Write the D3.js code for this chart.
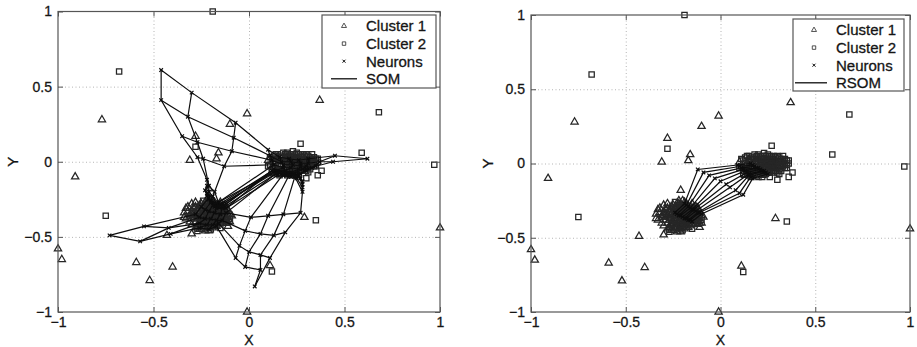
<!DOCTYPE html>
<html>
<head>
<meta charset="utf-8">
<script src="https://cdn.jsdelivr.net/npm/d3@7/dist/d3.min.js"></script>
<style>
  body { margin: 0; background: #fff; }
  svg { display: block; font-family: "Liberation Sans", Arial, Helvetica, sans-serif; }
</style>
</head>
<body>
<svg id="chart" width="917" height="347"></svg>
<script>
// axis ticks
const ticks = [-1, -0.5, 0, 0.5, 1];
const tickLabels = ['\u22121', '\u22120.5', '0', '0.5', '1'];
const gridTicks = [-0.5, 0, 0.5];
const legendLabels = ['Cluster 1', 'Cluster 2', 'Neurons'];

// cluster 1 (triangles): scattered points + dense core near (-0.21,-0.34)
const cluster1Outliers = [
  [-0.77, 0.28], [-0.91, -0.10], [-1.00, -0.58], [-0.98, -0.65], [-0.59, -0.67],
  [-0.52, -0.79], [-0.40, -0.70], [-0.43, -0.49], [-0.30, -0.48], [0.11, -0.69],
  [-0.01, -1.00], [1.00, -0.44], [0.29, -0.37], [0.37, 0.41], [-0.01, 0.32],
  [-0.10, 0.25], [-0.28, 0.17], [-0.31, 0.01], [-0.16, 0.06], [-0.17, 0.02],
  [-0.21, -0.18], [-0.33, -0.31], [-0.34, -0.37], [-0.11, -0.43], [-0.11, -0.40],
  [-0.23, -0.46], [-0.09, -0.36]
];
const cluster1Core = [
  [-0.30, -0.33], [-0.28, -0.30], [-0.27, -0.36], [-0.26, -0.40], [-0.25, -0.32],
  [-0.25, -0.28], [-0.24, -0.35], [-0.24, -0.42], [-0.23, -0.30], [-0.23, -0.38],
  [-0.22, -0.33], [-0.22, -0.27], [-0.21, -0.36], [-0.21, -0.41], [-0.20, -0.31],
  [-0.20, -0.39], [-0.19, -0.34], [-0.19, -0.28], [-0.18, -0.37], [-0.18, -0.43],
  [-0.17, -0.32], [-0.17, -0.40], [-0.16, -0.35], [-0.16, -0.29], [-0.15, -0.38],
  [-0.15, -0.33], [-0.14, -0.41], [-0.14, -0.30], [-0.13, -0.36], [-0.12, -0.33],
  [-0.29, -0.38], [-0.27, -0.43], [-0.26, -0.34], [-0.22, -0.44], [-0.20, -0.25],
  [-0.18, -0.31], [-0.24, -0.37], [-0.21, -0.30], [-0.19, -0.42], [-0.16, -0.39],
  [-0.31, -0.36], [-0.28, -0.35], [-0.25, -0.45], [-0.12, -0.39], [-0.11, -0.35],
  [-0.23, -0.34], [-0.17, -0.36], [-0.26, -0.31], [-0.29, -0.31], [-0.27, -0.33],
  [-0.26, -0.37], [-0.25, -0.39], [-0.24, -0.31], [-0.23, -0.41], [-0.22, -0.36],
  [-0.22, -0.30], [-0.21, -0.33], [-0.21, -0.38], [-0.20, -0.35], [-0.20, -0.42],
  [-0.19, -0.37], [-0.19, -0.31], [-0.18, -0.34], [-0.18, -0.40], [-0.17, -0.29],
  [-0.17, -0.38], [-0.16, -0.33], [-0.16, -0.42], [-0.15, -0.36], [-0.15, -0.30],
  [-0.14, -0.34], [-0.14, -0.38], [-0.13, -0.32], [-0.13, -0.40], [-0.28, -0.40],
  [-0.30, -0.35], [-0.32, -0.33], [-0.23, -0.27], [-0.26, -0.42], [-0.24, -0.44],
  [-0.11, -0.37], [-0.12, -0.30], [-0.19, -0.26], [-0.21, -0.44],
  [-0.34, -0.34], [-0.33, -0.38], [-0.32, -0.30], [-0.31, -0.40], [-0.30, -0.28],
  [-0.30, -0.42], [-0.29, -0.34], [-0.28, -0.27], [-0.28, -0.44], [-0.27, -0.38],
  [-0.26, -0.29], [-0.26, -0.45], [-0.25, -0.35], [-0.25, -0.41], [-0.24, -0.29],
  [-0.24, -0.39], [-0.23, -0.32], [-0.23, -0.43], [-0.22, -0.38], [-0.22, -0.25],
  [-0.21, -0.28], [-0.21, -0.46], [-0.20, -0.33], [-0.20, -0.37], [-0.19, -0.40],
  [-0.19, -0.44], [-0.18, -0.27], [-0.18, -0.36], [-0.17, -0.34], [-0.17, -0.43],
  [-0.16, -0.31], [-0.16, -0.37], [-0.15, -0.27], [-0.15, -0.41], [-0.14, -0.32],
  [-0.14, -0.36], [-0.13, -0.34], [-0.13, -0.29], [-0.12, -0.37], [-0.12, -0.41],
  [-0.11, -0.32], [-0.10, -0.35], [-0.10, -0.40], [-0.27, -0.31], [-0.29, -0.36],
  [0.13, -0.08], [0.15, 0.03], [0.22, -0.08], [0.30, 0.03], [0.10, 0.01]
];

// cluster 2 (squares): scattered points + dense core near (0.23,-0.02)
const cluster2Outliers = [
  [-0.19, 1.00], [-0.68, 0.60], [-0.75, -0.36], [0.68, 0.33], [0.59, 0.06],
  [0.97, -0.02], [0.35, -0.39], [0.12, -0.73], [-0.28, 0.10], [0.27, 0.12],
  [0.38, -0.06], [0.36, -0.09], [0.30, -0.11]
];
const cluster2Core = [
  [0.12, 0.02], [0.13, -0.03], [0.14, 0.05], [0.15, -0.06], [0.16, 0.01],
  [0.17, -0.02], [0.17, 0.04], [0.18, -0.07], [0.19, 0.00], [0.19, -0.04],
  [0.20, 0.03], [0.21, -0.01], [0.21, -0.06], [0.22, 0.05], [0.22, 0.01],
  [0.23, -0.03], [0.24, 0.02], [0.24, -0.07], [0.25, -0.01], [0.25, 0.06],
  [0.26, -0.04], [0.27, 0.01], [0.27, 0.04], [0.28, -0.02], [0.28, -0.06],
  [0.29, 0.02], [0.30, -0.01], [0.30, 0.05], [0.31, -0.04], [0.32, 0.01],
  [0.33, -0.02], [0.34, 0.03], [0.35, -0.01], [0.23, 0.07], [0.18, 0.06],
  [0.16, -0.09], [0.20, -0.09], [0.26, -0.09], [0.31, -0.07], [0.33, 0.05],
  [0.14, -0.01], [0.21, 0.02], [0.26, 0.00], [0.29, -0.03], [0.23, -0.05],
  [0.19, 0.02], [0.24, -0.02], [0.27, -0.05], [0.11, -0.02], [0.36, 0.00],
  [0.13, 0.00], [0.14, -0.04], [0.15, 0.02], [0.16, -0.03], [0.17, 0.01],
  [0.18, -0.05], [0.18, 0.03], [0.19, -0.02], [0.20, 0.01], [0.20, -0.05],
  [0.21, 0.04], [0.22, -0.03], [0.22, -0.06], [0.23, 0.00], [0.23, 0.03],
  [0.24, -0.04], [0.25, 0.01], [0.25, -0.06], [0.26, 0.03], [0.26, -0.02],
  [0.27, -0.03], [0.28, 0.00], [0.28, 0.03], [0.29, -0.05], [0.30, 0.01],
  [0.31, -0.02], [0.32, 0.03], [0.32, -0.05], [0.33, 0.00], [0.34, -0.03],
  [0.15, -0.08], [0.17, -0.06], [0.19, 0.05], [0.24, 0.05], [0.35, 0.02],
  [0.12, -0.05], [0.10, -0.03], [0.11, 0.03], [0.12, -0.07], [0.13, 0.04],
  [0.14, -0.07], [0.15, 0.05], [0.15, -0.02], [0.16, 0.03], [0.16, -0.05],
  [0.17, -0.08], [0.18, 0.01], [0.19, -0.08], [0.19, 0.04], [0.20, -0.02],
  [0.20, 0.06], [0.21, -0.04], [0.21, 0.00], [0.22, 0.03], [0.22, -0.09],
  [0.23, -0.07], [0.23, 0.05], [0.24, 0.00], [0.24, -0.05], [0.25, 0.03],
  [0.25, -0.03], [0.26, 0.05], [0.26, -0.06], [0.27, 0.02], [0.27, -0.01],
  [0.28, 0.05], [0.28, -0.04], [0.29, 0.00], [0.29, 0.04], [0.30, -0.03],
  [0.30, -0.06], [0.31, 0.01], [0.31, 0.04], [0.32, -0.01], [0.33, 0.02],
  [0.34, 0.00], [0.35, -0.03], [0.36, 0.02],
  [-0.20, -0.45], [-0.15, -0.44], [-0.10, -0.38], [-0.27, -0.46], [-0.13, -0.31],
  [-0.24, -0.26]
];

// SOM neurons, 14 x 10 map (rows of the map)
const somGrid = [
  [[-0.46, 0.61], [-0.30, 0.46], [-0.07, 0.26], [0.10, 0.08], [0.16, 0.03], [0.21, 0.02], [0.26, 0.01], [0.31, 0.02], [0.45, 0.04], [0.62, 0.02]],
  [[-0.46, 0.41], [-0.32, 0.30], [-0.08, 0.16], [0.11, 0.04], [0.17, 0.00], [0.22, 0.00], [0.27, -0.01], [0.31, -0.01], [0.37, 0.00], [0.44, 0.00]],
  [[-0.35, 0.17], [-0.27, 0.13], [-0.09, 0.07], [0.12, 0.01], [0.18, -0.02], [0.23, -0.02], [0.27, -0.03], [0.30, -0.03], [0.33, -0.04], [0.35, -0.03]],
  [[-0.27, 0.03], [-0.24, 0.02], [-0.13, -0.03], [0.13, -0.02], [0.18, -0.04], [0.22, -0.04], [0.26, -0.05], [0.28, -0.05], [0.30, -0.06], [0.30, -0.05]],
  [[-0.22, -0.12], [-0.21, -0.16], [-0.18, -0.20], [-0.16, -0.27], [0.14, -0.06], [0.19, -0.06], [0.22, -0.07], [0.25, -0.07], [0.27, -0.08], [0.26, -0.09]],
  [[-0.22, -0.16], [-0.21, -0.20], [-0.19, -0.23], [-0.17, -0.28], [-0.15, -0.29], [0.15, -0.06], [0.19, -0.07], [0.23, -0.08], [0.26, -0.09], [0.27, -0.11]],
  [[-0.23, -0.19], [-0.22, -0.23], [-0.20, -0.26], [-0.18, -0.29], [-0.13, -0.29], [0.13, -0.05], [0.17, -0.08], [0.21, -0.08], [0.25, -0.09], [0.28, -0.13]],
  [[-0.22, -0.21], [-0.21, -0.25], [-0.19, -0.27], [-0.15, -0.28], [0.12, -0.06], [0.16, -0.07], [0.20, -0.09], [0.23, -0.09], [0.26, -0.10], [0.28, -0.15]],
  [[-0.21, -0.22], [-0.20, -0.26], [-0.18, -0.30], [-0.16, -0.30], [-0.12, -0.31], [0.15, -0.09], [0.18, -0.09], [0.22, -0.10], [0.25, -0.11], [0.28, -0.17]],
  [[-0.21, -0.24], [-0.20, -0.27], [-0.19, -0.29], [-0.17, -0.31], [-0.14, -0.31], [0.14, -0.08], [0.18, -0.08], [0.21, -0.09], [0.24, -0.10], [0.28, -0.20]],
  [[-0.25, -0.30], [-0.23, -0.32], [-0.21, -0.33], [-0.18, -0.34], [-0.15, -0.35], [-0.12, -0.34], [0.01, -0.37], [0.10, -0.36], [0.18, -0.35], [0.27, -0.34]],
  [[-0.28, -0.35], [-0.26, -0.37], [-0.23, -0.38], [-0.20, -0.38], [-0.17, -0.39], [-0.14, -0.39], [-0.02, -0.46], [0.06, -0.48], [0.13, -0.49], [0.19, -0.47]],
  [[-0.55, -0.43], [-0.42, -0.44], [-0.26, -0.41], [-0.22, -0.42], [-0.19, -0.42], [-0.16, -0.41], [-0.05, -0.56], [0.00, -0.60], [0.06, -0.62], [0.11, -0.64]],
  [[-0.73, -0.49], [-0.57, -0.53], [-0.41, -0.48], [-0.26, -0.44], [-0.21, -0.45], [-0.17, -0.43], [-0.07, -0.64], [-0.02, -0.70], [0.06, -0.72], [0.03, -0.83]]
];

// RSOM neurons: each row = 2 in left cluster, 1 bend, 2 in right cluster
const rsomGrid = [
  [[-0.24, -0.33], [-0.19, -0.27], [-0.12, -0.04], [0.09, -0.01], [0.16, 0.00]],
  [[-0.23, -0.34], [-0.18, -0.28], [-0.09, -0.06], [0.10, -0.02], [0.17, -0.01]],
  [[-0.22, -0.35], [-0.17, -0.29], [-0.06, -0.08], [0.11, -0.03], [0.18, -0.02]],
  [[-0.21, -0.35], [-0.16, -0.30], [-0.03, -0.10], [0.12, -0.04], [0.19, -0.03]],
  [[-0.20, -0.36], [-0.15, -0.31], [0.00, -0.12], [0.13, -0.05], [0.20, -0.03]],
  [[-0.19, -0.37], [-0.14, -0.31], [0.03, -0.14], [0.14, -0.06], [0.21, -0.04]],
  [[-0.18, -0.37], [-0.13, -0.32], [0.05, -0.16], [0.15, -0.07], [0.22, -0.05]],
  [[-0.17, -0.38], [-0.12, -0.33], [0.08, -0.18], [0.15, -0.08], [0.23, -0.05]],
  [[-0.16, -0.38], [-0.11, -0.33], [0.10, -0.20], [0.16, -0.09], [0.24, -0.06]],
  [[-0.15, -0.39], [-0.10, -0.34], [0.12, -0.21], [0.17, -0.10], [0.25, -0.07]]
];
const rsomLinkedCols = [0, 1, 3, 4];

const cluster1 = cluster1Outliers.concat(cluster1Core);
const cluster2 = cluster2Outliers.concat(cluster2Core);

const panels = [
  { name: 'SOM', grid: somGrid, cols: d3.range(10), left: 58, right: 440, top: 11.5, bottom: 312,
    yLabelX: 13, legend: { x: 322, y: 15, w: 114, h: 73, line: [9, 35], mark: 22, text: 44 } },
  { name: 'RSOM', grid: rsomGrid, cols: rsomLinkedCols, left: 531, right: 910, top: 15, bottom: 312,
    yLabelX: 488, legend: { x: 793, y: 19, w: 111, h: 72, line: [2, 34], mark: 21, text: 43 } }
];

const svg = d3.select('#chart');
const ink = '#0d0d0d';
const markInk = '#262626';
const textInk = '#151515';

const triangle = d3.symbol().type(d3.symbolTriangle).size(23);
const square = d3.symbol().type(d3.symbolSquare).size(28);
const crossPath = s => `M${-s},${-s}L${s},${s}M${-s},${s}L${s},${-s}`;

// slight stroke so the text reads as heavy as the scanned figure
const heavyText = t => t.attr('fill', textInk).attr('stroke', textInk).attr('stroke-width', 0.3);

panels.forEach(p => {
  const x = d3.scaleLinear().domain([-1, 1]).range([p.left, p.right]);
  const y = d3.scaleLinear().domain([-1, 1]).range([p.bottom, p.top]);
  const g = svg.append('g');
  const w = p.right - p.left, h = p.bottom - p.top;

  // dotted grid
  g.append('g')
    .attr('transform', `translate(0,${p.bottom})`)
    .call(d3.axisBottom(x).tickValues(gridTicks).tickSize(-h).tickFormat(''))
    .call(a => a.select('.domain').remove())
    .selectAll('line').attr('stroke', '#b5b5b5').attr('stroke-dasharray', '1,2.5');
  g.append('g')
    .attr('transform', `translate(${p.left},0)`)
    .call(d3.axisLeft(y).tickValues(gridTicks).tickSize(-w).tickFormat(''))
    .call(a => a.select('.domain').remove())
    .selectAll('line').attr('stroke', '#b5b5b5').attr('stroke-dasharray', '1,2.5');

  // data points
  g.append('g').selectAll('path').data(cluster1).join('path')
    .attr('d', triangle)
    .attr('transform', d => `translate(${x(d[0])},${y(d[1])})`)
    .attr('fill', 'none').attr('stroke', markInk).attr('stroke-width', 1.25);
  g.append('g').selectAll('path').data(cluster2).join('path')
    .attr('d', square)
    .attr('transform', d => `translate(${x(d[0])},${y(d[1])})`)
    .attr('fill', 'none').attr('stroke', markInk).attr('stroke-width', 1.25);

  // neuron mesh: rows and columns of the map
  const line = d3.line().x(d => x(d[0])).y(d => y(d[1]));
  const rows = p.grid;
  const columns = p.cols.map(c => rows.map(r => r[c]));
  g.append('g').selectAll('path').data(rows.concat(columns)).join('path')
    .attr('d', line)
    .attr('fill', 'none').attr('stroke', ink).attr('stroke-width', 1.2);
  g.append('g').selectAll('path').data(rows.flat()).join('path')
    .attr('d', crossPath(1.8))
    .attr('transform', d => `translate(${x(d[0])},${y(d[1])})`)
    .attr('stroke', ink).attr('stroke-width', 1.2);

  // frame and axes
  g.append('rect')
    .attr('x', p.left).attr('y', p.top).attr('width', w).attr('height', h)
    .attr('fill', 'none').attr('stroke', '#555').attr('stroke-width', 1.2);

  const fmt = (d, i) => tickLabels[i];
  const styleAxis = a => {
    a.select('.domain').remove();
    a.selectAll('line').attr('stroke', '#555');
    a.selectAll('text').call(heavyText).style('font-size', '14px')
      .style('font-family', '"Liberation Sans", Arial, Helvetica, sans-serif');
  };
  g.append('g').attr('transform', `translate(0,${p.bottom})`)
    .call(d3.axisBottom(x).tickValues(ticks).tickFormat(fmt).tickSize(-5).tickPadding(5)).call(styleAxis);
  g.append('g').attr('transform', `translate(${p.left},0)`)
    .call(d3.axisLeft(y).tickValues(ticks).tickFormat(fmt).tickSize(-5).tickPadding(6)).call(styleAxis);
  g.append('g').attr('transform', `translate(0,${p.top})`)
    .call(d3.axisTop(x).tickValues(ticks).tickFormat('').tickSize(-5)).call(styleAxis);
  g.append('g').attr('transform', `translate(${p.right},0)`)
    .call(d3.axisRight(y).tickValues(ticks).tickFormat('').tickSize(-5)).call(styleAxis);

  // axis labels
  g.append('text')
    .attr('x', x(0)).attr('y', 345)
    .attr('text-anchor', 'middle').style('font-size', '14px')
    .call(heavyText)
    .text('X');
  g.append('text')
    .attr('transform', `translate(${p.yLabelX + 5},${y(0)}) rotate(-90)`)
    .attr('text-anchor', 'middle').style('font-size', '15px')
    .call(heavyText)
    .text('Y');

  // legend
  const L = p.legend;
  const lg = g.append('g').attr('transform', `translate(${L.x},${L.y})`);
  lg.append('rect').attr('width', L.w).attr('height', L.h)
    .attr('fill', '#fff').attr('stroke', '#555').attr('stroke-width', 1.2);
  const labels = legendLabels.concat([p.name]);
  labels.forEach((t, i) => {
    const ry = 11 + i * 17.6;
    if (i === 0) {
      lg.append('path').attr('d', d3.symbol().type(d3.symbolTriangle).size(11))
        .attr('transform', `translate(${L.mark},${ry})`)
        .attr('fill', 'none').attr('stroke', markInk).attr('stroke-width', 0.8);
    } else if (i === 1) {
      lg.append('path').attr('d', d3.symbol().type(d3.symbolSquare).size(12))
        .attr('transform', `translate(${L.mark},${ry})`)
        .attr('fill', 'none').attr('stroke', markInk).attr('stroke-width', 0.8);
    } else if (i === 2) {
      lg.append('path').attr('d', crossPath(1.5))
        .attr('transform', `translate(${L.mark},${ry})`)
        .attr('stroke', ink).attr('stroke-width', 1);
    } else {
      lg.append('line').attr('x1', L.line[0]).attr('x2', L.line[1])
        .attr('y1', ry).attr('y2', ry).attr('stroke', ink).attr('stroke-width', 1.3);
    }
    lg.append('text').attr('x', L.text).attr('y', ry).attr('dy', '0.36em')
      .style('font-size', '15px').call(heavyText).text(t);
  });
});
</script>
</body>
</html>
